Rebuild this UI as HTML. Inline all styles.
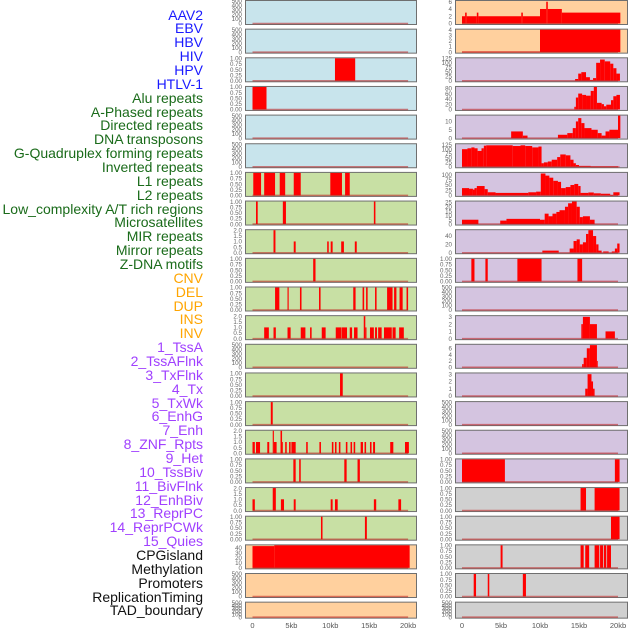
<!DOCTYPE html>
<html><head><meta charset="utf-8">
<style>
html,body{margin:0;padding:0;background:#fff;}
#wrap{position:relative;width:630px;height:630px;overflow:hidden;font-family:"Liberation Sans",sans-serif;}
.lbl{position:absolute;right:427px;font-size:14px;line-height:14px;white-space:nowrap;}
</style></head>
<body>
<div id="wrap">
<svg id="svg" width="630" height="630" style="position:absolute;left:0;top:0"></svg>
</div>
<script>
const labels=["AAV2","EBV","HBV","HIV","HPV","HTLV-1","Alu repeats","A-Phased repeats","Directed repeats","DNA transposons","G-Quadruplex forming repeats","Inverted repeats","L1 repeats","L2 repeats","Low_complexity A/T rich regions","Microsatellites","MIR repeats","Mirror repeats","Z-DNA motifs","CNV","DEL","DUP","INS","INV","1_TssA","2_TssAFlnk","3_TxFlnk","4_Tx","5_TxWk","6_EnhG","7_Enh","8_ZNF_Rpts","9_Het","10_TssBiv","11_BivFlnk","12_EnhBiv","13_ReprPC","14_ReprPCWk","15_Quies","CPGisland","Methylation","Promoters","ReplicationTiming","TAD_boundary"];
const labelColors=["#1a1aff","#1a1aff","#1a1aff","#1a1aff","#1a1aff","#1a1aff","#1a6b1a","#1a6b1a","#1a6b1a","#1a6b1a","#1a6b1a","#1a6b1a","#1a6b1a","#1a6b1a","#1a6b1a","#1a6b1a","#1a6b1a","#1a6b1a","#1a6b1a","#ffa500","#ffa500","#ffa500","#ffa500","#ffa500","#a040ff","#a040ff","#a040ff","#a040ff","#a040ff","#a040ff","#a040ff","#a040ff","#a040ff","#a040ff","#a040ff","#a040ff","#a040ff","#a040ff","#a040ff","#111","#111","#111","#111","#111"];
const xTicks=[0,5,10,15,20];
const xTickLabels=["0","5kb","10kb","15kb","20kb"];
const E=[0,100,200,300,400,500];
const P=[0,0.25,0.5,0.75,1];
const H=[0,0.5,1,1.5,2];
const leftYmax=[500,500,1,1,500,500,1,1,2,1,1,2,500,1,1,2,1,2,1,44.5,500,500];
const leftTicks=[E,E,P,P,E,E,P,P,H,P,P,H,E,P,P,H,P,H,P,[0,10,20,30,40],E,E];
const leftBg=["#c8e4ec","#c8e4ec","#c8e4ec","#c8e4ec","#c8e4ec","#c8e4ec","#c8e0a4","#c8e0a4","#c8e0a4","#c8e0a4","#c8e0a4","#c8e0a4","#c8e0a4","#c8e0a4","#c8e0a4","#c8e0a4","#c8e0a4","#c8e0a4","#c8e0a4","#ffd09e","#ffd09e","#ffd09e"];
const leftSegs=[
[],[],
[[10.6,13.2,1]],
[[0,1.8,1]],
[],[],
[[0.1,1.1,1],[1.5,2.9,1],[3.5,4.2,1],[5.3,6.2,1],[10,11.5,1],[11.9,12.5,1]],
[[0.45,0.67,1],[3.9,4.3,1],[15.6,15.8,1]],
[[2.7,2.95,2],[5.3,5.55,1],[9.6,9.8,1],[10.05,10.3,1],[11.4,11.75,1],[13.15,13.4,1]],
[[7.8,8.1,1]],
[[2.9,3.45,1],[4.5,4.65,1],[6.1,6.3,1],[8.55,8.75,1],[12.95,13.25,1],[14.15,14.35,1],[14.6,14.8,1],[15.75,15.95,1],[17.3,18.0,1],[18.2,18.5,1],[18.9,19.3,1],[19.8,20.0,1]],
[[1.5,2.1,1],[2.7,3.0,1],[4.5,4.9,1],[6.2,6.8,1],[7.4,7.6,1],[8.9,9.4,1],[10.7,11.4,1],[11.45,12.15,1],[12.5,12.8,1],[13.05,13.5,1],[14.3,14.5,2],[14.5,14.65,1],[15.1,15.6,1],[15.75,16.0,1],[16.15,16.6,1],[16.9,17.9,1],[18.0,18.4,1],[18.85,19.45,1]],
[],
[[11.25,11.6,1]],
[[2.35,2.6,1]],
[[0,0.3,1],[0.45,0.97,1],[1.9,2.15,1],[2.6,2.75,2],[2.75,3.1,1],[3.6,3.8,2],[3.8,3.9,1],[4.2,4.4,1],[4.7,4.9,1],[5.0,5.55,1],[6.9,7.1,1],[8.6,8.8,1],[10.2,10.4,1],[10.6,10.8,1],[11.1,11.3,1],[12.0,12.2,1],[12.6,12.8,1],[13.0,13.2,1],[13.9,14.2,1],[14.4,14.6,1],[15.1,15.3,1],[15.5,15.75,1],[17.7,18.1,1],[19.6,20.1,1]],
[[5.25,5.55,1],[6.0,6.2,1],[11.8,12.1,1],[13.5,13.8,1]],
[[0,0.3,1],[2.6,3.0,2],[3.65,4.05,1],[5.3,5.55,1],[10.05,10.3,1],[10.6,10.95,1],[15.6,15.9,1],[18.75,19.1,1]],
[[8.8,9.0,1],[14.45,14.7,1]],
[[0,2.8,43],[2.8,20.2,44.5]],
[],[]
];
const rightYmax=[6.2,4,125,85,13.5,128,108,26,54,1,500,3.1,7.1,3.1,500,500,1,1,1,1,1,500];
const rightTicks=[[0,2,4,6],[0,1,2,3,4],[0,25,50,75,100,125],[0,20,40,60,80],[0,5,10],[0,25,50,75,100,125],[0,25,50,75,100],[0,5,10,15,20,25],[0,20,40],P,E,[0,1,2,3],[0,2,4,6],[0,1,2,3],E,E,P,P,P,P,P,E];
const rightBg=["#ffd09e","#ffd09e","#d4c4e0","#d4c4e0","#d4c4e0","#d4c4e0","#d4c4e0","#d4c4e0","#d4c4e0","#d4c4e0","#d4c4e0","#d4c4e0","#d4c4e0","#d4c4e0","#d4c4e0","#d4c4e0","#d4c4e0","#d0d0d0","#d0d0d0","#d0d0d0","#d0d0d0","#d0d0d0"];
const rightSegs=[
[[0,0.4,2],[0.4,0.6,3],[0.6,1.9,2],[1.9,2.1,3],[2.1,7.6,2],[7.6,7.8,3],[7.8,10,2],[10,10.8,4],[10.8,11.0,6],[11.0,12.8,4],[12.8,20.3,3]],
[[0,10,0.1],[10,20.3,4]],
[[14.5,14.9,10],[14.9,15.3,40],[15.3,15.9,48],[15.9,16.4,20],[16.4,16.8,5],[16.8,17.2,15],[17.2,17.7,100],[17.7,18.3,118],[18.3,19.0,108],[19.0,19.4,95],[19.4,19.8,70],[19.8,20.25,40]],
[[14.4,14.6,10],[14.6,14.9,45],[14.9,15.4,60],[15.4,15.9,55],[15.9,16.5,52],[16.5,16.9,70],[16.9,17.3,85],[17.3,17.9,25],[17.9,18.2,20],[18.2,18.5,12],[18.5,19.1,18],[19.1,19.4,35],[19.4,19.8,50],[19.8,20.25,55]],
[[6.3,7.8,4],[7.8,8.4,1.5],[12.3,13.5,2],[13.5,14.2,3],[14.2,14.6,6],[14.6,14.9,10],[14.9,15.3,12],[15.3,15.7,9],[15.7,16.6,6],[16.6,17.4,5],[17.4,17.9,3],[17.9,18.4,1.5],[18.4,18.9,4],[18.9,20.0,5],[20.0,20.3,13.5]],
[[0,0.7,100],[0.7,1.2,105],[1.2,1.6,110],[1.6,2.0,105],[2.0,2.5,90],[2.5,2.8,105],[2.8,3.1,120],[3.1,6.5,122],[6.5,7.5,118],[7.5,8.1,122],[8.1,9.0,118],[9.0,9.8,110],[9.8,10.2,115],[10.2,10.5,20],[10.5,11.0,25],[11.0,11.5,30],[11.5,12.2,40],[12.2,12.6,55],[12.6,13.3,70],[13.3,13.9,65],[13.9,14.3,40],[14.3,14.6,20],[14.6,15.0,10],[15.0,16.5,5],[16.5,20.2,1]],
[[0,0.9,35],[0.9,1.4,32],[1.4,1.6,28],[1.6,1.9,35],[1.9,2.9,45],[2.9,3.3,30],[3.3,4.3,15],[4.3,8.5,12],[8.5,9.5,15],[9.5,10.1,18],[10.1,10.7,105],[10.7,11.2,95],[11.2,11.7,85],[11.7,12.3,70],[12.3,12.7,65],[12.7,13.3,35],[13.3,13.9,40],[13.9,14.4,50],[14.4,14.9,55],[14.9,15.2,45],[15.2,16.2,12],[16.2,16.9,14],[16.9,17.8,10],[17.8,19.0,8],[19.0,19.4,2],[19.4,20.2,15]],
[[0,2.1,5],[4.9,5.7,4],[5.7,10.0,6],[10.0,10.6,5],[10.6,11.1,12],[11.1,11.6,9],[11.6,12.1,12],[12.1,12.5,14],[12.5,13.2,16],[13.2,13.6,20],[13.6,14.1,24],[14.1,14.7,26],[14.7,15.1,20],[15.1,15.5,8],[15.5,16.4,9],[16.4,17.0,5]],
[[10.3,12.4,5],[13.8,14.3,10],[14.3,14.7,28],[14.7,15.1,32],[15.1,15.5,20],[15.5,15.9,25],[15.9,16.2,45],[16.2,16.8,54],[16.8,17.2,40],[17.2,17.5,20],[17.5,17.9,5],[18.1,18.8,3],[19.2,19.6,3],[19.6,19.9,10],[19.9,20.2,22]],
[[1.2,1.6,1],[3.0,3.3,1],[7.1,10.2,1],[14.8,15.4,1]],
[],
[[15.3,15.5,2],[15.5,16.4,3],[16.4,17.3,2],[18.4,19.6,1]],
[[15.4,15.6,1],[15.6,16.0,3],[16.0,16.4,6],[16.4,17.3,7],[17.3,17.4,2]],
[[15.8,16.1,1],[16.1,16.6,3],[16.6,16.8,2],[16.8,17.0,1]],
[],[],
[[0,5.5,1],[19.6,20.2,1]],
[[15.2,15.9,1],[17.0,20.2,1]],
[[19.1,20.2,1]],
[[4.95,5.2,1],[15.2,15.6,1],[15.8,16.3,1],[17.0,17.6,1],[17.7,18.1,1],[18.2,18.5,1],[18.6,19.1,1]],
[[1.5,1.8,1],[3.3,3.5,1],[7.8,8.2,1]],
[]
];
const NS="http://www.w3.org/2000/svg";
const svg=document.getElementById('svg');
function mk(tag,attrs,parent){const e=document.createElementNS(NS,tag);for(const k in attrs)e.setAttribute(k,attrs[k]);(parent||svg).appendChild(e);return e;}
const PITCH=28.65;
function panelTop(i){return i*PITCH;}
function panelH(i){return i===21?16:24;}
const cols=[{x0:245,x1:416,z:252.5,k:7.78,segs:leftSegs,ymax:leftYmax,ticks:leftTicks,bg:leftBg,side:'left'},
            {x0:455,x1:627,z:462,k:7.8,segs:rightSegs,ymax:rightYmax,ticks:rightTicks,bg:rightBg,side:'right'}];
function fmt(v,ticks){const mx=ticks[ticks.length-1];if(mx===1)return v.toFixed(2);if(mx===2)return v.toFixed(1);return String(v);}
cols.forEach(c=>{
  const xs=kb=>c.z+kb*c.k;
  for(let i=0;i<22;i++){
    const top=panelTop(i),h=panelH(i);
    const g=mk('g',{});
    
    
    const bg=mk('rect',{x:c.x0+0.5,y:top+0.5,width:c.x1-c.x0,height:h,fill:c.bg[i],stroke:'#6f6f6f','stroke-width':1},g);
    
    
    const ymax=c.ymax[i];
    const ys=v=>top+h-0.5-(v/ymax)*(h-1.5);
    c.segs[i].forEach(s=>{
      const y=ys(s[2]);
      const r=mk('rect',{x:xs(s[0]),y:y,width:Math.max(0.8,xs(s[1])-xs(s[0])),height:Math.max(0.6,top+h-0.5-y),fill:'#ff0000'},g);
      
      
    });
    const bl=mk('line',{x1:xs(0),x2:xs(20),y1:top+h-0.5,y2:top+h-0.5,stroke:'rgba(190,30,30,0.55)','stroke-width':1.5},g);
    
    
    const tk=c.ticks[i];
    const tmax=tk[tk.length-1];
    const tys=v=>top+h-0.5-(v/Math.max(tmax,ymax===500?500:ymax))*(h-1.5);
    tk.forEach(v=>{
      const t=mk('text',{x:c.x0-3,y:tys(v)+2.2,'font-size':6.2,fill:'#666','text-anchor':'end','font-family':'Liberation Sans, sans-serif'},g);
      
      
      t.textContent=fmt(v,tk);
    });
  }
  xTicks.forEach((v,j)=>{
    const t=mk('text',{x:xs(v),y:628,'font-size':7.5,fill:'#555','text-anchor':'middle','font-family':'Liberation Sans, sans-serif'});
    
    
    t.textContent=xTickLabels[j];
  });
});
const wrap=document.getElementById('wrap');
labels.forEach((s,i)=>{
  const d=document.createElement('div');
  d.className='lbl';
  d.style.top=(15+i*13.86-7.5)+'px';
  d.style.color=labelColors[i];
  
  
  d.textContent=s;
  wrap.appendChild(d);
});
</script>
</body></html>
